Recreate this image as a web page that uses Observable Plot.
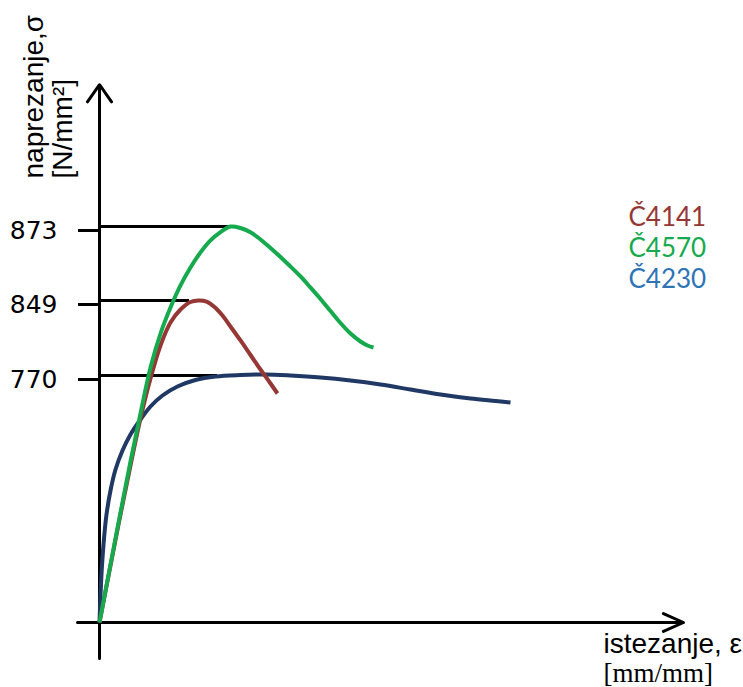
<!DOCTYPE html>
<html>
<head>
<meta charset="utf-8">
<script src="https://cdn.jsdelivr.net/npm/d3@7"></script>
<script src="https://cdn.jsdelivr.net/npm/@observablehq/plot@0.6"></script>
<style>
  html, body { margin: 0; padding: 0; background: #ffffff; }
  #chart { width: 743px; height: 687px; }
</style>
</head>
<body>
<div id="chart"></div>
<script>
// ---- data ----
// draw order: Č4230 (back), Č4141, Č4570 (front)
const steelGrades = ["Č4230", "Č4141", "Č4570"];

const strainC4230 = [0, 0.001, 0.0025, 0.0045, 0.007, 0.011, 0.016, 0.023, 0.031, 0.041, 0.051, 0.063, 0.078, 0.096, 0.116, 0.141, 0.166, 0.191, 0.221, 0.251, 0.281, 0.311, 0.341, 0.371, 0.396, 0.411];
const stressC4230 = [0, 84.2, 177.7, 261.9, 336.7, 411.5, 477.0, 536.2, 586.1, 632.8, 673.4, 707.7, 735.7, 756.0, 766.9, 770.5, 771.1, 770.0, 763.8, 754.4, 741.9, 726.4, 710.8, 698.3, 690.5, 685.8];

const strainC4141 = [0, 0.011, 0.021, 0.031, 0.041, 0.051, 0.061, 0.071, 0.081, 0.091, 0.099, 0.107, 0.115, 0.123, 0.131, 0.141, 0.151, 0.161, 0.171, 0.178];
const stressC4141 = [0, 177.7, 336.7, 489.4, 636.0, 760.6, 801.6, 825.8, 839.5, 847.4, 849.0, 847.9, 842.2, 833.2, 821.6, 806.9, 791.6, 776.3, 745.1, 713.9];

const strainC4570 = [0, 0.011, 0.021, 0.031, 0.041, 0.051, 0.061, 0.071, 0.081, 0.091, 0.101, 0.111, 0.121, 0.131, 0.141, 0.151, 0.161, 0.171, 0.181, 0.191, 0.201, 0.211, 0.221, 0.231, 0.241, 0.251, 0.261, 0.268, 0.274];
const stressC4570 = [0, 180.8, 342.9, 501.9, 651.5, 778.4, 814.2, 841.6, 853.9, 859.7, 864.6, 868.5, 871.2, 873.0, 872.5, 871.1, 868.8, 866.0, 863.1, 860.0, 856.8, 853.2, 849.5, 837.9, 825.3, 814.2, 805.8, 801.6, 799.5];

// marked stress levels (y tick labels) and where their guide lines end
const peakStress = [873, 849, 770];
const yTickLabels = ["873", "849", "770"];
const peakLineEnd = [0.131, 0.090, 0.118];

// legend (top to bottom)
const legendGrades = ["Č4141", "Č4570", "Č4230"];

const yTitle = ["naprezanje,σ", "[N/mm²]"];
const xTitle = ["istezanje, ε", "[mm/mm]"];

// ---- styles ----
const curveColor = {"Č4230": "#1f3864", "Č4141": "#953735", "Č4570": "#16a94d"};
const legendColor = {"Č4141": "#953735", "Č4570": "#16a94d", "Č4230": "#2e74b5"};

// ---- build table ----
const seriesList = [
  {grade: "Č4230", strain: strainC4230, stress: stressC4230},
  {grade: "Č4141", strain: strainC4141, stress: stressC4141},
  {grade: "Č4570", strain: strainC4570, stress: stressC4570}
];
const rows = seriesList.flatMap(s => s.strain.map((e, i) => ({grade: s.grade, strain: e, stress: s.stress[i]})));
const guides = peakStress.map((v, i) => ({stress: v, end: peakLineEnd[i]}));

// axis arrow extents (in scale units)
const xAxisStart = -0.022, xAxisEnd = 0.584;
const yAxisStart = -112, yAxisEnd = 919;

const chart = Plot.plot({
  width: 743,
  height: 687,
  marginLeft: 99,
  marginRight: 44,
  marginTop: 0,
  marginBottom: 0,
  style: {background: "#ffffff", color: "#000000", fontFamily: "DejaVu Sans", fontSize: "25px", overflow: "visible"},
  x: {domain: [0, 0.6], axis: null},
  y: {type: "linear", domain: [0, 770, 849, 873], range: [622, 375, 300, 226], axis: null},
  color: {domain: steelGrades, range: steelGrades.map(g => curveColor[g])},
  marks: [
    // axes with open arrow heads
    Plot.arrow([0], {x1: xAxisStart, y1: 0, x2: xAxisEnd, y2: 0, stroke: "#000", strokeWidth: 3, headAngle: 48, headLength: 11}),
    Plot.arrow([0], {x1: 0, y1: yAxisStart, x2: 0, y2: yAxisEnd, stroke: "#000", strokeWidth: 3, headAngle: 70, headLength: 10.5}),
    // y ticks + labels
    Plot.axisY(peakStress, {anchor: "left", tickSize: 21, tickPadding: 21, strokeWidth: 3, stroke: "#000", fontSize: 25, dy: 4, label: null,
      tickFormat: d => yTickLabels[peakStress.indexOf(d)]}),
    // guide lines to the peaks
    Plot.ruleY(guides, {y: "stress", x1: 0, x2: "end", stroke: "#000", strokeWidth: 3}),
    // curves
    Plot.line(rows, {x: "strain", y: "stress", z: "grade", stroke: "grade", strokeWidth: 4, curve: "catmull-rom", strokeLinecap: "butt"}),
    // axis titles
    Plot.text([yTitle[0]], {frameAnchor: "top-left", dx: -57, dy: 178, rotate: -90, textAnchor: "start", lineAnchor: "bottom", fontSize: 28, fontFamily: "Liberation Sans", fill: "#000"}),
    Plot.text([yTitle[1]], {frameAnchor: "top-left", dx: -28, dy: 178, rotate: -90, textAnchor: "start", lineAnchor: "bottom", fontSize: 28, fontFamily: "Liberation Sans", fill: "#000"}),
    Plot.text([xTitle[0]], {frameAnchor: "top-left", dx: 504, dy: 652, textAnchor: "start", lineAnchor: "bottom", fontSize: 28, fontFamily: "Liberation Sans", fill: "#000"}),
    Plot.text([xTitle[1]], {frameAnchor: "top-left", dx: 504, dy: 681, textAnchor: "start", lineAnchor: "bottom", fontSize: 27, fontFamily: "Liberation Serif", fill: "#000"}),
    // legend
    ...legendGrades.map((g, i) => Plot.text([g], {frameAnchor: "top-left", dx: 529, dy: 225 + 31 * i, textAnchor: "start", lineAnchor: "bottom", fontSize: 26, fontFamily: "Lato", fill: legendColor[g]}))
  ]
});

document.getElementById("chart").appendChild(chart);
</script>
</body>
</html>
